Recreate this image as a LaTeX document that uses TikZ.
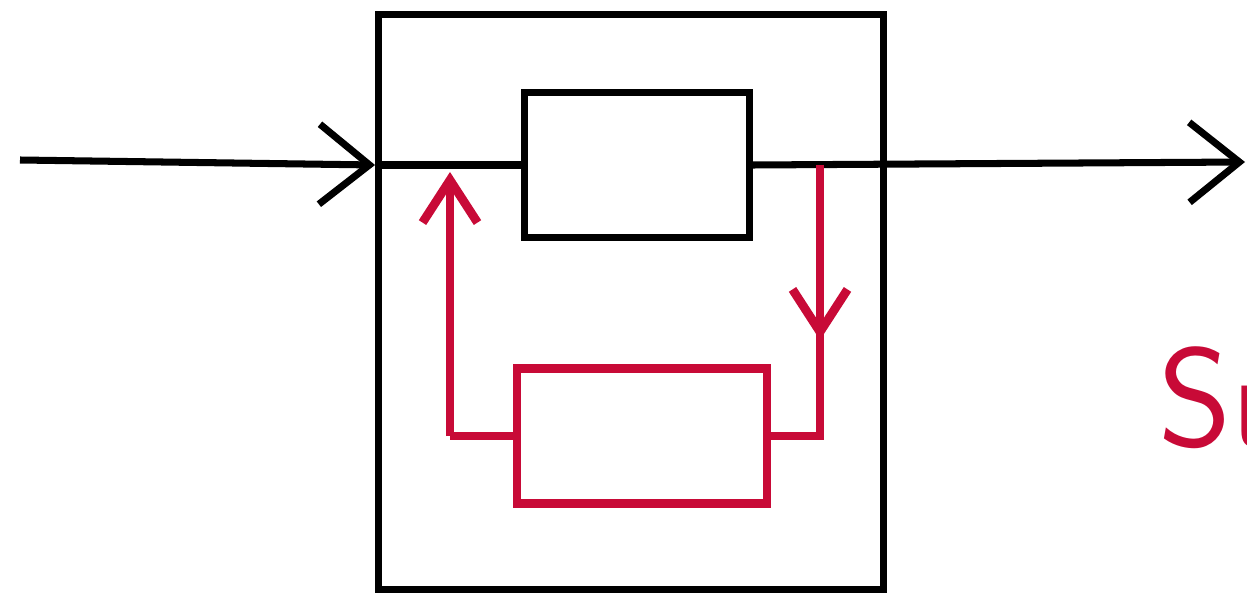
\documentclass[tikz,border=0pt]{standalone}
\usepackage{xcolor}
\usepackage{tikz}
\usetikzlibrary{calc, arrows.meta, positioning}

\definecolor{penred}{RGB}{200,10,55}

\begin{document}
\begin{tikzpicture}[x=0.02cm, y=-0.02cm,
    blackline/.style={line width=4pt, black},
    redline/.style={line width=5pt, penred},
    box/.style={draw, blackline, minimum width=0pt, minimum height=0pt, inner sep=0pt},
    redbox/.style={draw, redline, inner sep=0pt},
    bigtip/.style={-{Straight Barb[length=1cm, width=1.6cm, line width=4pt]}},
    redtip/.style={-{Straight Barb[length=0.85cm, width=1.1cm, line width=5pt]}}]

    % =================================================================
    % 1. KHUNG HÌNH (TỌA ĐỘ THEO ĐIỂM ẢNH)
    % =================================================================
    \useasboundingbox (0,0) rectangle (1247,611);

    % =================================================================
    % 2. CÁC KHỐI: KHUNG NGOÀI, KHỐI TRÊN, KHỐI PHẢN HỒI
    % =================================================================
    \node[box, minimum width=10.1cm, minimum height=11.5cm] (outer) at (631,302) {};
    \node[box, minimum width=4.5cm, minimum height=2.9cm] (plant) at (637,165) {};
    \node[redbox, minimum width=5.0cm, minimum height=2.7cm] (fback) at (642,436) {};

    % =================================================================
    % 3. TỌA ĐỘ CỦA ĐƯỜNG TÍN HIỆU CHÍNH
    % =================================================================
    \coordinate (in) at (20,160);
    \coordinate (entry) at (outer.west |- plant.west);
    \coordinate (out) at (1245,162);
    \coordinate (tap) at (820,165);
    \coordinate (tapdown) at (820,340);
    \coordinate (fbleft) at (450,436);
    \coordinate (fbtop) at (450,172);

    % =================================================================
    % 4. ĐƯỜNG TÍN HIỆU CHÍNH (MÀU ĐEN)
    % =================================================================
    \draw[blackline, bigtip] (in) -- (entry);
    \draw[blackline] (entry) -- (plant.west);
    \draw[blackline, bigtip] (plant.east) -- (out);

    % =================================================================
    % 5. VÒNG PHẢN HỒI (MÀU ĐỎ)
    % =================================================================
    \draw[redline] (tap) -- (tap |- fback.east) -- (fback.east);
    \draw[redline, redtip] (tap) -- (tapdown);
    \draw[redline] (fback.west) -- (fbleft);
    \draw[redline, redtip] (fbleft) -- (fbtop);

    % =================================================================
    % 6. CHỮ BÊN PHẢI (BỊ CẮT Ở MÉP)
    % =================================================================
    \node[anchor=west, inner sep=0pt, text=penred, font=\sffamily\fontsize{80}{80}\selectfont] (label) at (1158,398) {Su};

\end{tikzpicture}
\end{document}
